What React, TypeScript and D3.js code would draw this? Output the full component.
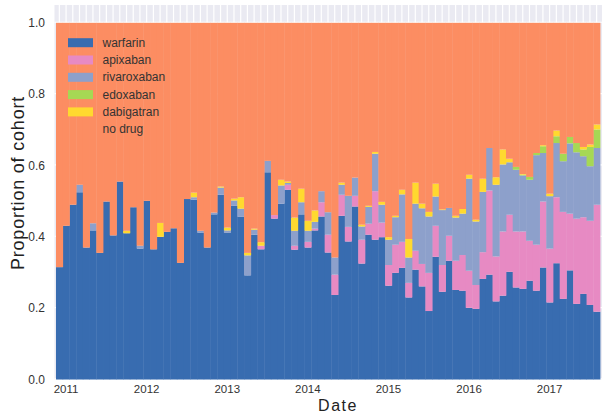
import React from "react";
import * as d3 from "d3";

const months: Date[] = d3.timeMonth.range(new Date(2010, 11, 1), new Date(2017, 8, 1));
const yearTicks = ["2011", "2012", "2013", "2014", "2015", "2016", "2017"];
const yTicks = [0, 0.2, 0.4, 0.6, 0.8, 1.0];

const warfarin = [
  0.315, 0.431, 0.49, 0.525, 0.37, 0.418, 0.355, 0.499, 0.404, 0.555,
  0.41, 0.483, 0.367, 0.501, 0.365, 0.4, 0.414, 0.424, 0.327, 0.506,
  0.504, 0.412, 0.37, 0.463, 0.518, 0.411, 0.487, 0.456, 0.292, 0.406,
  0.365, 0.581, 0.451, 0.493, 0.532, 0.364, 0.463, 0.37, 0.418, 0.457,
  0.356, 0.237, 0.459, 0.387, 0.485, 0.325, 0.406, 0.392, 0.399, 0.263,
  0.299, 0.313, 0.23, 0.308, 0.261, 0.192, 0.344, 0.246, 0.333, 0.251,
  0.249, 0.201, 0.198, 0.282, 0.294, 0.219, 0.235, 0.302, 0.258, 0.254,
  0.277, 0.249, 0.314, 0.216, 0.326, 0.226, 0.306, 0.212, 0.24, 0.209, 0.19,
];
const apixaban = [
  0, 0, 0, 0, 0, 0, 0, 0, 0, 0,
  0, 0, 0, 0, 0, 0, 0, 0, 0, 0,
  0, 0, 0, 0, 0, 0, 0, 0, 0, 0,
  0.01, 0, 0.01, 0, 0.014, 0.011, 0, 0.016, 0.005, 0.04,
  0.05, 0.057, 0.059, 0.041, 0.03, 0.067, 0.031, 0.136, 0.041, 0.058,
  0.079, 0.073, 0.041, 0.053, 0.063, 0.107, 0.087, 0.075, 0.07, 0.082,
  0.1, 0.104, 0.067, 0.075, 0.236, 0.126, 0.18, 0.16, 0.157, 0.161,
  0.112, 0.129, 0.185, 0.151, 0.185, 0.244, 0.159, 0.239, 0.215, 0.236, 0.3,
];
const rivaroxaban = [
  0, 0, 0, 0.021, 0, 0.02, 0, 0, 0, 0,
  0, 0, 0.008, 0, 0, 0, 0, 0, 0, 0,
  0.007, 0.005, 0, 0.005, 0.02, 0.007, 0.015, 0.023, 0.056, 0.014,
  0, 0.032, 0, 0.051, 0.005, 0.042, 0.034, 0.031, 0.019, 0.031,
  0.063, 0.048, 0.028, 0.087, 0.051, 0.037, 0.047, 0.105, 0.05, 0.071,
  0.077, 0.133, 0.071, 0.132, 0.156, 0.158, 0.082, 0.154, 0.078, 0.121,
  0.116, 0.258, 0.178, 0.169, 0.119, 0.201, 0.188, 0.147, 0.173, 0.157,
  0.171, 0.251, 0.136, 0.147, 0.152, 0.142, 0.197, 0.186, 0.171, 0.153, 0.159,
];
const edoxaban = [
  0, 0, 0, 0, 0, 0, 0, 0, 0, 0,
  0, 0, 0, 0, 0, 0, 0, 0, 0, 0,
  0, 0, 0, 0, 0, 0, 0, 0, 0, 0,
  0, 0, 0, 0, 0, 0, 0, 0, 0, 0,
  0, 0, 0, 0, 0, 0, 0, 0, 0, 0,
  0, 0, 0, 0, 0, 0, 0, 0, 0, 0,
  0, 0, 0, 0, 0, 0, 0, 0, 0.008, 0.002,
  0.008, 0.006, 0.019, 0, 0.019, 0.021, 0.018, 0.026, 0.019, 0.054, 0.052,
];
const dabigatran = [
  0, 0, 0, 0, 0, 0, 0, 0, 0, 0,
  0.007, 0, 0, 0, 0, 0.039, 0, 0, 0, 0,
  0.013, 0, 0, 0, 0.003, 0.008, 0.005, 0.032, 0.007, 0.003,
  0.01, 0, 0, 0.016, 0.004, 0.037, 0.038, 0.028, 0.032, 0,
  0, 0, 0.006, 0, 0, 0.005, 0.003, 0.005, 0.008, 0.007,
  0.004, 0.013, 0.052, 0.059, 0.013, 0.013, 0.036, 0.002, 0, 0.005,
  0.013, 0.011, 0.005, 0.037, 0, 0.021, 0.042, 0.01, 0, 0.002,
  0, 0, 0.003, 0.007, 0.016, 0, 0, 0, 0.007, 0.007, 0.014,
];

const keys = ["warfarin", "apixaban", "rivaroxaban", "edoxaban", "dabigatran", "no drug"];
const colors: Record<string, string> = {
  warfarin: "#386cb0",
  apixaban: "#e78ac3",
  rivaroxaban: "#8da0cb",
  edoxaban: "#a6d854",
  dabigatran: "#ffd92f",
  "no drug": "#fc8d62",
};

const table = months.map((m, i) => {
  const row: any = {
    month: m,
    warfarin: warfarin[i],
    apixaban: apixaban[i],
    rivaroxaban: rivaroxaban[i],
    edoxaban: edoxaban[i],
    dabigatran: dabigatran[i],
  };
  row["no drug"] = 1 - (warfarin[i] + apixaban[i] + rivaroxaban[i] + edoxaban[i] + dabigatran[i]);
  return row;
});

export default function App() {
  const W = 608, H = 415;
  const plotL = 54.5, plotR = 602, plotT = 5, plotB = 379.5;
  const x = d3.scaleBand<Date>().domain(months).range([56, 600]).padding(0);
  const y = d3.scaleLinear().domain([0, 1.05]).range([plotB, plotT]);
  const series = d3.stack<any>().keys(keys)(table);
  const font = "'Liberation Sans', Arial, sans-serif";
  const bw = x.bandwidth();

  return (
    <svg width={W} height={H} style={{ position: "absolute", left: 0, top: 0, background: "#fff" }} fontFamily={font}>
      <rect x={plotL} y={plotT} width={plotR - plotL} height={plotB - plotT} fill="#eaeaf2" />
      {months.map((m, i) => (
        <line key={"vg" + i} x1={x(m)! + bw / 2} x2={x(m)! + bw / 2} y1={plotT} y2={plotB} stroke="#fff" strokeWidth={1.2} />
      ))}
      {yTicks.map((t) => (
        <line key={"hg" + t} x1={plotL} x2={plotR} y1={y(t) - 0.6} y2={y(t) - 0.6} stroke="#fff" strokeWidth={1.2} />
      ))}
      {series.map((s) => (
        <g key={s.key} fill={colors[s.key]}>
          {s.map((d, i) => (
            <rect
              key={i}
              x={x(d.data.month)!}
              width={bw + 0.4}
              y={y(d[1])}
              height={Math.max(0, y(d[0]) - y(d[1]))}
            />
          ))}
        </g>
      ))}
      {yTicks.map((t) => (
        <text key={"yl" + t} x={45} y={y(t) + 4} textAnchor="end" fontSize={12} fill="#333">
          {t.toFixed(1)}
        </text>
      ))}
      {yearTicks.map((yr) => {
        const m = months.find((d) => d.getFullYear() === +yr && d.getMonth() === 0)!;
        return (
          <text key={yr} x={x(m)! + bw / 2} y={393} textAnchor="middle" fontSize={11.5} fill="#333">
            {yr}
          </text>
        );
      })}
      <text x={338} y={411} textAnchor="middle" fontSize={16} letterSpacing={1.5} fill="#222">
        Date
      </text>
      <text transform={`translate(24,183) rotate(-90)`} textAnchor="middle" fontSize={18} letterSpacing={0.8} fill="#222">
        Proportion of cohort
      </text>
      {keys.map((k, i) => {
        const cy = 42.7 + i * 17.3;
        return (
          <g key={"lg" + k}>
            {k !== "no drug" && <rect x={68} y={cy - 4.5} width={25} height={9} fill={colors[k]} />}
            <text x={102.5} y={cy + 4} fontSize={12} fill="#333">
              {k}
            </text>
          </g>
        );
      })}
    </svg>
  );
}
